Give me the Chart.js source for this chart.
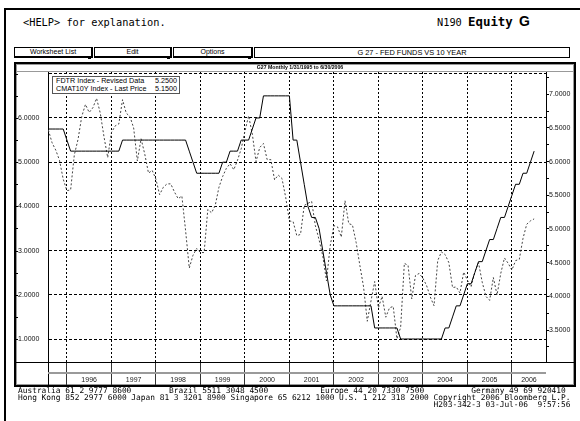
<!DOCTYPE html>
<html>
<head>
  <meta charset="utf-8">
  <style>
    body {
      margin: 0;
      padding: 0;
      background: #fff;
      font-family: "Liberation Sans", Arial, sans-serif;
    }
    #page {
      position: relative;
      width: 580px;
      height: 421px;
      overflow: hidden;
    }
    /* terminal window frame */
    #frame {
      position: absolute;
      left: 4px;
      top: 8px;
      width: 600px;
      height: 430px;
      border-left: 2px solid #000;
      border-top: 2px solid #000;
    }
    .mono {
      position: absolute;
      font-family: "DejaVu Sans Mono", monospace;
      white-space: pre;
      color: #000;
    }
    #help { left: 23px; top: 16px; font-size: 10.3px; line-height: 12px; }
    #ticker { left: 437px; top: 16px; font-size: 10.3px; line-height: 12px; }
    #ticker b { font-size: 12.4px; }
    #gee { position: absolute; left: 519px; top: 13px; font: bold 14px "Liberation Sans", Arial, sans-serif; }

    /* toolbar */
    .btn {
      position: absolute;
      top: 47px;
      height: 8px;
      border: 1px solid #000;
      border-right-width: 2px;
      border-bottom-width: 2px;
      font-size: 7px;
      line-height: 8px;
      text-align: center;
    }
    .btn::after {
      content: "";
      position: absolute;
      right: 0;
      bottom: -3px;
      width: 3px;
      height: 2px;
      background: #000;
    }
    #b1 { left: 14px; width: 76px; }
    #b2 { left: 94px; width: 75px; }
    #b3 { left: 173px; width: 77px; }
    #titlebox {
      position: absolute;
      top: 47px;
      left: 254px;
      width: 314px;
      height: 9px;
      border: 1px solid #000;
      font-size: 7.4px;
      line-height: 9px;
      text-align: center;
    }

    /* chart panel */
    #panel {
      position: absolute;
      left: 14px;
      top: 62px;
      width: 558px;
      height: 321px;
      border: 2px solid #000;
      box-shadow: inset 1px 1px 0 #999, inset -1px -1px 0 #999;
      background: #fff;
    }
    #chart { position: absolute; left: 0; top: 0; }
    #legend {
      position: absolute;
      left: 52px;
      top: 76px;
      width: 121px;
      height: 16px;
      padding: 0 2px 0 3px;
      border: 1px solid #555;
      background: #fff;
      font-size: 7.2px;
      line-height: 8px;
    }
    #legend div { display: flex; justify-content: space-between; }
    #footer { left: 18px; top: 387px; font-size: 7.85px; line-height: 7.2px; }
  </style>
  <script src="https://cdn.jsdelivr.net/npm/chart.js"></script>
</head>
<body>
<div id="page">
  <div id="frame"></div>
  <div id="help" class="mono">&lt;HELP&gt; for explanation.</div>
  <div id="ticker" class="mono">N190 <b>Equity</b></div>
  <div id="gee">G</div>

  <div id="b1" class="btn">Worksheet List</div>
  <div id="b2" class="btn">Edit</div>
  <div id="b3" class="btn">Options</div>
  <div id="titlebox">G 27 - FED FUNDS VS 10 YEAR</div>

  <div id="panel"></div>
  <canvas id="chart" width="580" height="421"></canvas>
  <div id="legend">
    <div><span>FDTR Index - Revised Data</span><span id="lv1"></span></div>
    <div><span>CMAT10Y Index - Last Price</span><span id="lv2"></span></div>
  </div>

  <div id="footer" class="mono"></div>
</div>

<script>
  // Month-end dates, Jul 1995 .. Jun 2006 (one point per month)
  const months = [];
  for (let yr = 1995; yr <= 2006; yr++) {
    for (let m = 1; m <= 12; m++) {
      if ((yr === 1995 && m < 7) || (yr === 2006 && m > 6)) continue;
      months.push(yr + "-" + String(m).padStart(2, "0"));
    }
  }

  // FDTR Index - fed funds target (left axis)
  const fdtr = [
    5.75, 5.75, 5.75, 5.75, 5.75, 5.50,                                         // 1995
    5.25, 5.25, 5.25, 5.25, 5.25, 5.25, 5.25, 5.25, 5.25, 5.25, 5.25, 5.25,     // 1996
    5.25, 5.25, 5.50, 5.50, 5.50, 5.50, 5.50, 5.50, 5.50, 5.50, 5.50, 5.50,     // 1997
    5.50, 5.50, 5.50, 5.50, 5.50, 5.50, 5.50, 5.50, 5.25, 5.00, 4.75, 4.75,     // 1998
    4.75, 4.75, 4.75, 4.75, 4.75, 5.00, 5.00, 5.25, 5.25, 5.25, 5.50, 5.50,     // 1999
    5.50, 5.75, 6.00, 6.00, 6.50, 6.50, 6.50, 6.50, 6.50, 6.50, 6.50, 6.50,     // 2000
    5.50, 5.50, 5.00, 4.50, 4.00, 3.75, 3.75, 3.50, 3.00, 2.50, 2.00, 1.75,     // 2001
    1.75, 1.75, 1.75, 1.75, 1.75, 1.75, 1.75, 1.75, 1.75, 1.75, 1.25, 1.25,     // 2002
    1.25, 1.25, 1.25, 1.25, 1.25, 1.00, 1.00, 1.00, 1.00, 1.00, 1.00, 1.00,     // 2003
    1.00, 1.00, 1.00, 1.00, 1.00, 1.25, 1.25, 1.50, 1.75, 1.75, 2.00, 2.25,     // 2004
    2.25, 2.50, 2.75, 2.75, 3.00, 3.25, 3.25, 3.50, 3.75, 3.75, 4.00, 4.25,     // 2005
    4.50, 4.50, 4.75, 4.75, 5.00, 5.25                                          // 2006
  ];

  // CMAT10Y Index - 10 year yield (right axis)
  const cmat10y = [
    6.47, 6.28, 6.17, 6.02, 5.74, 5.57,                                         // 1995
    5.58, 6.10, 6.33, 6.67, 6.85, 6.73, 6.80, 6.94, 6.72, 6.37, 6.06, 6.43,     // 1996
    6.53, 6.56, 6.92, 6.72, 6.67, 6.50, 6.01, 6.34, 6.11, 5.83, 5.87, 5.74,     // 1997
    5.51, 5.62, 5.67, 5.67, 5.55, 5.45, 5.49, 4.98, 4.42, 4.61, 4.71, 4.65,     // 1998
    4.65, 5.29, 5.24, 5.35, 5.62, 5.78, 5.90, 5.97, 5.88, 6.02, 6.19, 6.45,     // 1999
    6.68, 6.41, 6.00, 6.21, 6.27, 6.03, 6.03, 5.73, 5.80, 5.75, 5.47, 5.12,     // 2000
    5.11, 4.90, 4.92, 5.35, 5.38, 5.41, 5.05, 4.84, 4.60, 4.23, 4.75, 5.05,     // 2001
    5.03, 4.88, 5.42, 5.08, 5.06, 4.80, 4.46, 4.14, 3.63, 3.93, 4.22, 3.83,     // 2002
    4.00, 3.69, 3.83, 3.85, 3.37, 3.54, 4.49, 4.46, 3.96, 4.31, 4.34, 4.27,     // 2003
    4.16, 3.99, 3.86, 4.53, 4.66, 4.62, 4.50, 4.13, 4.14, 4.05, 4.36, 4.24,     // 2004
    4.14, 4.36, 4.50, 4.21, 4.00, 3.94, 4.28, 4.02, 4.34, 4.57, 4.49, 4.39,     // 2005
    4.53, 4.55, 4.86, 5.07, 5.12, 5.15                                          // 2006
  ];

  const yearLabels = ["1996", "1997", "1998", "1999", "2000", "2001", "2002", "2003", "2004", "2005", "2006"];
  const panelTitle = "G27 Monthly 1/31/1995 to 6/30/2006";
  const footerEntries = ["Australia 61 2 9777 8600", "Brazil 5511 3048 4500", "Europe 44 20 7330 7500", "Germany 49 69 920410"];
  const footerLine2 = "Hong Kong 852 2977 6000 Japan 81 3 3201 8900 Singapore 65 6212 1000 U.S. 1 212 318 2000 Copyright 2006 Bloomberg L.P.";
  const footerLine3 = "H203-342-3 03-Jul-06  9:57:56";

  // year boundaries sit on the December month-end point
  const yearBounds = [];
  months.forEach((m, i) => { if (m.endsWith("-12")) yearBounds.push(i); });

  // legend + footer text
  document.getElementById("lv1").textContent = fdtr[fdtr.length - 1].toFixed(4);
  document.getElementById("lv2").textContent = cmat10y[cmat10y.length - 1].toFixed(4);
  let line1 = "";
  footerEntries.forEach((e, i) => { line1 += (i < footerEntries.length - 1) ? e.padEnd(32, " ") : e; });
  document.getElementById("footer").textContent =
    line1 + "\n" + footerLine2 + "\n" + footerLine3.padStart(footerLine2.length, " ");

  // extra bits of the Bloomberg frame drawn around the plot
  const decor = {
    id: "decor",
    afterDraw(chart) {
      const { ctx, chartArea: a, scales } = chart;
      const x = scales.x, y = scales.y;
      const seg = (x1, y1, x2, y2) => { ctx.beginPath(); ctx.moveTo(x1, y1); ctx.lineTo(x2, y2); ctx.stroke(); };
      ctx.save();

      // panel title strip
      ctx.fillStyle = "#000";
      ctx.font = "bold 5.2px 'Liberation Sans', Arial, sans-serif";
      ctx.textAlign = "center";
      ctx.textBaseline = "middle";
      ctx.fillText(panelTitle, 300, 67.5);
      ctx.strokeStyle = "#999";
      ctx.lineWidth = 1;
      seg(16, 71.5, 574, 71.5);

      // bottom of plot across whole panel
      ctx.strokeStyle = "#000";
      seg(16, a.bottom + 0.5, 574, a.bottom + 0.5);
      seg(a.left + 0.5, a.bottom, a.left + 0.5, 385);

      // date band
      ctx.strokeStyle = "#9a9a9a";
      ctx.lineWidth = 2;
      seg(a.left, 373, a.right, 373);

      ctx.fillStyle = "#222";
      ctx.font = "7px 'Liberation Sans', Arial, sans-serif";
      yearLabels.forEach((lab, i) => {
        const s = yearBounds[i];
        const e = i + 1 < yearBounds.length ? yearBounds[i + 1] : x.max;
        ctx.fillText(lab, x.getPixelForValue((s + e) / 2), 380.5);
      });

      // small ticks on the outer left edge
      ctx.strokeStyle = "#000";
      ctx.lineWidth = 1;
      for (let v = 1; v <= 7; v += 0.5) {
        const py = Math.round(y.getPixelForValue(v)) + 0.5;
        seg(16, py, 18, py);
      }
      ctx.restore();
    }
  };

  Chart.defaults.font.family = "'Liberation Sans', Arial, sans-serif";
  Chart.defaults.color = "#111";

  const ctx = document.getElementById("chart").getContext("2d");
  const chart = new Chart(ctx, {
    type: "line",
    data: {
      datasets: [
        {
          label: "FDTR Index - Revised Data",
          data: fdtr.map((v, i) => ({ x: i, y: v })),
          yAxisID: "y",
          borderColor: "#000",
          borderWidth: 1,
          pointRadius: 0,
          tension: 0,
        },
        {
          label: "CMAT10Y Index - Last Price",
          data: cmat10y.map((v, i) => ({ x: i, y: v })),
          yAxisID: "y2",
          borderColor: "#444",
          borderWidth: 1,
          borderDash: [2, 2],
          pointRadius: 0,
          tension: 0,
        },
      ],
    },
    options: {
      responsive: false,
      animation: false,
      devicePixelRatio: 1,
      events: [],
      layout: {
        autoPadding: false,
        padding: { left: 18, right: 5, top: 72, bottom: 35 },
      },
      scales: {
        x: {
          type: "linear",
          position: "bottom",
          min: -0.1,
          max: 134.2,
          afterBuildTicks: (s) => { s.ticks = yearBounds.map((v) => ({ value: v })); },
          afterFit: (s) => { s.height = 24; },
          ticks: { display: false },
          grid: {
            color: "#000",
            lineWidth: 1,
            drawTicks: true,
            tickLength: 23,
            tickColor: "#333",
          },
          border: { display: false, dash: [2, 2] },
        },
        y: {
          type: "linear",
          position: "left",
          min: 0.48,
          max: 7.04,
          afterFit: (s) => { s.width = 30; },
          ticks: {
            stepSize: 1,
            includeBounds: false,
            crossAlign: "far",
            padding: 0,
            font: { size: 7 },
            callback: (v) => (v >= 7 ? "" : v.toFixed(4)),
          },
          grid: { color: "#000", lineWidth: 1, drawTicks: false },
          border: { display: true, color: "#000", width: 1, dash: [3, 2] },
        },
        y2: {
          type: "linear",
          position: "right",
          min: 3.025,
          max: 7.331,
          afterFit: (s) => { s.width = 29; },
          ticks: {
            stepSize: 0.25,
            includeBounds: false,
            crossAlign: "near",
            padding: 0,
            font: { size: 7 },
            callback: (v) => (Math.round(v * 4) % 2 === 0 ? v.toFixed(4) : ""),
          },
          grid: { drawOnChartArea: false, drawTicks: true, tickLength: 3, color: "#000" },
          border: { display: true, color: "#000", width: 1 },
        },
      },
      plugins: {
        legend: { display: false },
        tooltip: { enabled: false },
      },
    },
    plugins: [decor],
  });
</script>
</body>
</html>
